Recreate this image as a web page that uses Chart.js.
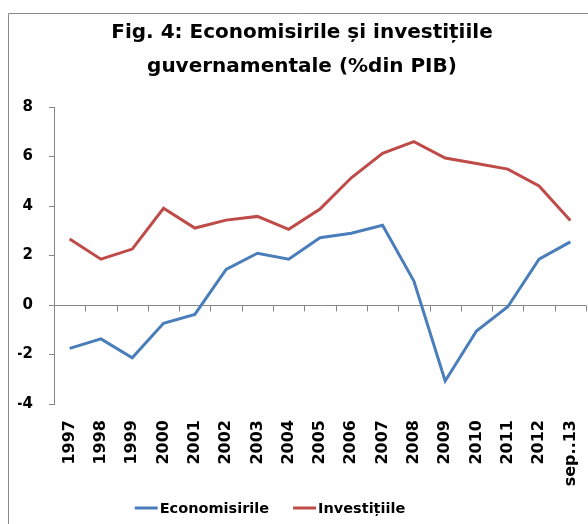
<!DOCTYPE html>
<html><head><meta charset="utf-8">
<script src="https://cdn.jsdelivr.net/npm/chart.js@4/dist/chart.umd.min.js"></script>
<style>html,body{margin:0;padding:0;background:#fff;overflow:hidden}#wrap{position:relative;width:588px;height:524px}</style>
</head><body><div id="wrap"><canvas id="c" width="588" height="524"></canvas></div>
<script>
const categories = ['1997','1998','1999','2000','2001','2002','2003','2004','2005','2006','2007','2008','2009','2010','2011','2012','sep..13'];
const economisirile = [-1.75,-1.37,-2.13,-0.74,-0.38,1.44,2.09,1.85,2.72,2.90,3.22,0.97,-3.07,-1.05,-0.07,1.85,2.55];
const investitiile = [2.67,1.85,2.26,3.91,3.11,3.43,3.58,3.06,3.88,5.14,6.13,6.60,5.94,5.72,5.49,4.81,3.41];
const seriesNames = ['Economisirile','Investițiile'];
const titleLines = ['Fig. 4: Economisirile și investițiile','guvernamentale (%din PIB)'];
const yMin = -4, yMax = 8, yStep = 2;

const FONT = '"DejaVu Sans", sans-serif';
const AXIS_GRAY = '#868686';

const frame = {
  id: 'frame',
  beforeDraw(chart) {
    const ctx = chart.ctx;
    ctx.save();
    ctx.fillStyle = '#fff';
    ctx.fillRect(0, 0, chart.width, chart.height);
    ctx.strokeStyle = '#8a8a8a';
    ctx.lineWidth = 1;
    ctx.beginPath();
    ctx.moveTo(8.5, chart.height);
    ctx.lineTo(8.5, 13.5);
    ctx.lineTo(chart.width, 13.5);
    ctx.stroke();
    ctx.restore();
  }
};

const zeroTicks = {
  id: 'zeroTicks',
  afterDatasetsDraw(chart) {
    const xs = chart.scales.x, ys = chart.scales.y;
    const y0 = Math.round(ys.getPixelForValue(0)) + 0.5;
    const ctx = chart.ctx;
    ctx.save();
    ctx.strokeStyle = AXIS_GRAY;
    ctx.lineWidth = 1;
    ctx.beginPath();
    for (let i = 0; i <= categories.length; i++) {
      const x = Math.round(xs.getPixelForValue(i - 0.5)) + 0.5;
      ctx.moveTo(x, y0);
      ctx.lineTo(x, y0 + 6);
    }
    ctx.stroke();
    ctx.restore();
  }
};

const customLegend = {
  id: 'customLegend',
  afterDraw(chart) {
    const ctx = chart.ctx;
    ctx.save();
    ctx.font = 'bold 14.5px ' + FONT;
    const lineW = 23, gap = 2, spacing = 24;
    const ds = chart.data.datasets;
    let total = 0;
    ds.forEach((d, i) => { total += lineW + gap + ctx.measureText(d.label).width; if (i < ds.length - 1) total += spacing; });
    let x = 270 - total / 2;
    const y = 508;
    ds.forEach((d) => {
      ctx.strokeStyle = d.borderColor;
      ctx.lineWidth = 3;
      ctx.beginPath();
      ctx.moveTo(x, y);
      ctx.lineTo(x + lineW, y);
      ctx.stroke();
      x += lineW + gap;
      ctx.fillStyle = '#000';
      ctx.textBaseline = 'middle';
      ctx.textAlign = 'left';
      ctx.fillText(d.label, x, y + 1);
      x += ctx.measureText(d.label).width + spacing;
    });
    ctx.restore();
  }
};

new Chart(document.getElementById('c'), {
  type: 'line',
  data: {
    labels: categories,
    datasets: [
      { label: seriesNames[0], data: economisirile, borderColor: '#4A7EBB', backgroundColor: '#4A7EBB', borderWidth: 3, pointRadius: 0, tension: 0, fill: false },
      { label: seriesNames[1], data: investitiile, borderColor: '#BE4B48', backgroundColor: '#BE4B48', borderWidth: 3, pointRadius: 0, tension: 0, fill: false }
    ]
  },
  options: {
    responsive: false,
    animation: false,
    layout: { padding: { left: 18, right: 2, top: 0, bottom: 0 } },
    plugins: {
      legend: { display: false },
      tooltip: { enabled: false },
      title: {
        display: true,
        text: titleLines,
        color: '#000',
        font: { family: FONT, size: 20, weight: 'bold', lineHeight: 1.7 },
        padding: { top: 16, bottom: 23 }
      }
    },
    scales: {
      x: {
        type: 'category',
        offset: true,
        grid: { display: false, drawTicks: false },
        border: { display: false },
        ticks: { autoSkip: false, minRotation: 90, maxRotation: 90, padding: 16, color: '#000', font: { family: FONT, size: 16, weight: 'bold' } },
        afterFit(s) { s.height = 120; s.paddingLeft = 0; s.paddingRight = 0; }
      },
      y: {
        min: yMin, max: yMax,
        ticks: { stepSize: yStep, padding: 16, color: '#000', font: { family: FONT, size: 15, weight: 'bold' } },
        grid: {
          color: (c) => (c.tick && c.tick.value === 0) ? AXIS_GRAY : 'rgba(0,0,0,0)',
          tickColor: AXIS_GRAY, tickLength: 5, lineWidth: 1, drawTicks: true
        },
        border: { display: true, color: AXIS_GRAY, width: 1 },
        afterFit(s) { s.width = 36; s.paddingTop = 0; s.paddingBottom = 0; }
      }
    }
  },
  plugins: [frame, zeroTicks, customLegend]
});
</script>
</body></html>
